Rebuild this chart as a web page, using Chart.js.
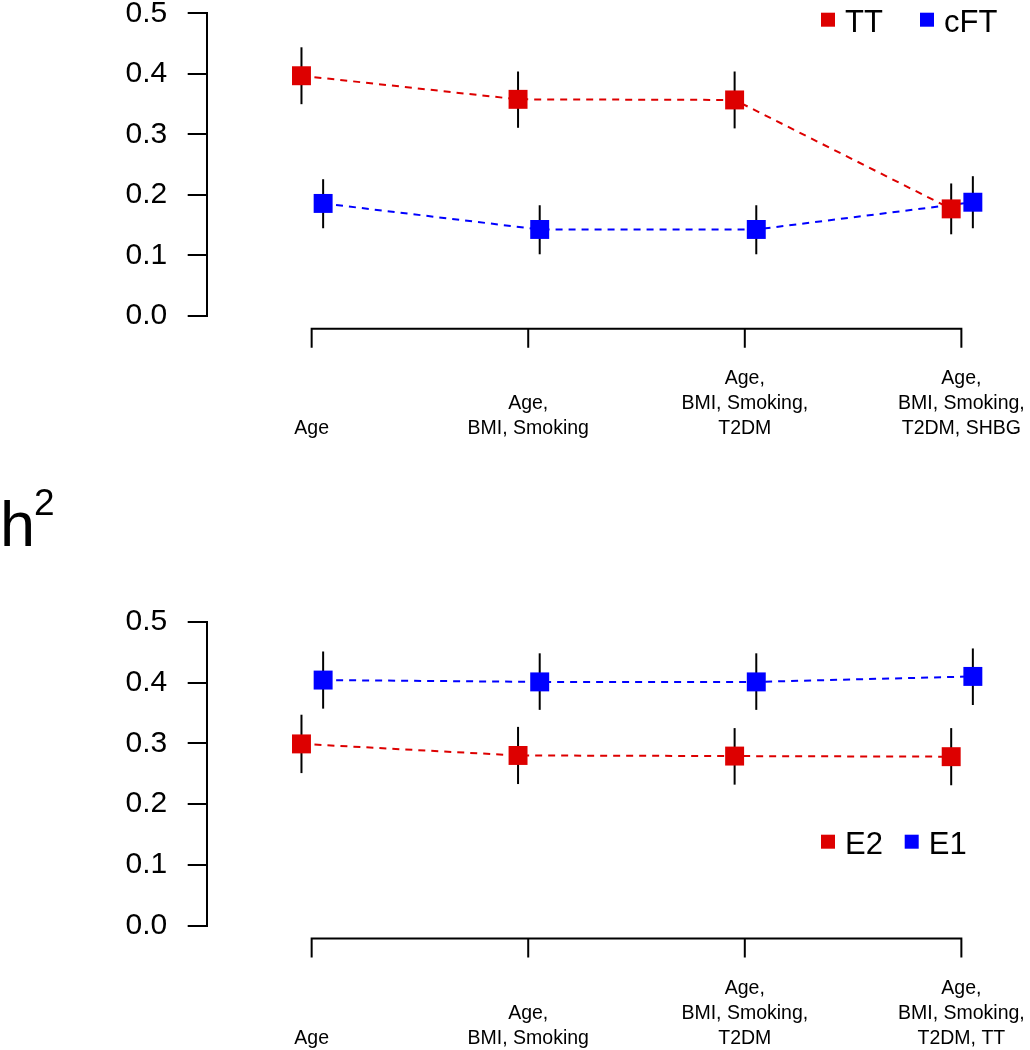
<!DOCTYPE html>
<html>
<head>
<meta charset="utf-8">
<script src="https://cdn.jsdelivr.net/npm/chart.js@4.4.1/dist/chart.umd.min.js"></script>
<style>
  html, body { margin: 0; padding: 0; background: #fff; width: 1030px; height: 1050px; overflow: hidden; }
  canvas { position: absolute; left: 0; }
  #c1 { top: 0; }
  #c2 { top: 525px; }
  .lab { position: absolute; font-family: "Liberation Sans", Arial, Helvetica, sans-serif; color: #000; line-height: 1; white-space: nowrap; }
  #hlab { left: 0px; top: 493px; font-size: 63px; }
  #hsup { left: 34px; top: 484px; font-size: 37px; }
</style>
</head>
<body>
<canvas id="c1" width="1030" height="525"></canvas>
<canvas id="c2" width="1030" height="525"></canvas>
<div class="lab" id="hlab">h</div>
<div class="lab" id="hsup">2</div>
<script>
// ---------------- DATA ----------------
const CATEGORIES_TOP = [
  ['Age'],
  ['Age,', 'BMI, Smoking'],
  ['Age,', 'BMI, Smoking,', 'T2DM'],
  ['Age,', 'BMI, Smoking,', 'T2DM, SHBG']
];
const CATEGORIES_BOTTOM = [
  ['Age'],
  ['Age,', 'BMI, Smoking'],
  ['Age,', 'BMI, Smoking,', 'T2DM'],
  ['Age,', 'BMI, Smoking,', 'T2DM, TT']
];
const Y_TICKS = [0.0, 0.1, 0.2, 0.3, 0.4, 0.5];

const TT       = [0.397, 0.358, 0.357, 0.177];
const TT_LOW   = [0.350, 0.311, 0.310, 0.135];
const TT_HIGH  = [0.444, 0.404, 0.404, 0.219];

const CFT      = [0.186, 0.143, 0.143, 0.188];
const CFT_LOW  = [0.145, 0.102, 0.102, 0.145];
const CFT_HIGH = [0.226, 0.183, 0.183, 0.231];

const E2       = [0.299, 0.280, 0.279, 0.278];
const E2_LOW   = [0.251, 0.233, 0.232, 0.231];
const E2_HIGH  = [0.347, 0.327, 0.325, 0.325];

const E1       = [0.404, 0.401, 0.401, 0.410];
const E1_LOW   = [0.357, 0.355, 0.355, 0.363];
const E1_HIGH  = [0.451, 0.448, 0.448, 0.456];

// ---------------- STYLE ----------------
const RED = '#dd0000';
const BLUE = '#0000ff';
const FONT = '"Liberation Sans", Arial, Helvetica, sans-serif';
const OFFSETS = [-0.047, 0.053];   // horizontal dodge of the two series

function makeDataset(label, color, values, low, high, k) {
  return {
    label: label,
    data: values.map((v, i) => ({ x: i + 1 + OFFSETS[k], y: v })),
    errLow: low,
    errHigh: high,
    borderColor: color,
    borderWidth: 2,
    borderDash: [7, 6],
    backgroundColor: color,
    pointStyle: 'rect',
    pointRadius: 13.4,
    pointHoverRadius: 13.4,
    pointBackgroundColor: color,
    pointBorderWidth: 0,
    showLine: true,
    tension: 0,
    clip: false
  };
}

const errorBars = {
  id: 'errorBars',
  beforeDatasetsDraw(chart) {
    const ctx = chart.ctx, xs = chart.scales.x, ys = chart.scales.y;
    ctx.save();
    ctx.strokeStyle = '#000';
    ctx.lineWidth = 2;
    chart.data.datasets.forEach(ds => {
      ds.data.forEach((p, i) => {
        const x = xs.getPixelForValue(p.x);
        ctx.beginPath();
        ctx.moveTo(x, ys.getPixelForValue(ds.errLow[i]));
        ctx.lineTo(x, ys.getPixelForValue(ds.errHigh[i]));
        ctx.stroke();
      });
    });
    ctx.restore();
  }
};

const bracketAxis = {
  id: 'bracketAxis',
  afterDraw(chart, args, opts) {
    const ctx = chart.ctx, xs = chart.scales.x;
    const cats = opts.categories;
    const y0 = chart.chartArea.bottom + 12.7;
    const xsPix = cats.map((c, i) => xs.getPixelForValue(i + 1));
    ctx.save();
    ctx.strokeStyle = '#000';
    ctx.lineWidth = 2;
    ctx.lineJoin = 'miter';
    ctx.beginPath();
    ctx.moveTo(xsPix[0], y0 + 19);
    ctx.lineTo(xsPix[0], y0);
    ctx.lineTo(xsPix[xsPix.length - 1], y0);
    ctx.lineTo(xsPix[xsPix.length - 1], y0 + 19);
    for (let i = 1; i < xsPix.length - 1; i++) {
      ctx.moveTo(xsPix[i], y0);
      ctx.lineTo(xsPix[i], y0 + 19);
    }
    ctx.stroke();
    ctx.fillStyle = '#000';
    ctx.font = '19.5px ' + FONT;
    ctx.textAlign = 'center';
    ctx.textBaseline = 'middle';
    cats.forEach((lines, i) => {
      const n = lines.length;
      lines.forEach((t, j) => {
        ctx.fillText(t, xsPix[i], y0 + 100 - (n - 1 - j) * 25);
      });
    });
    ctx.restore();
  }
};

const boxLegend = {
  id: 'boxLegend',
  afterDraw(chart, args, opts) {
    const ctx = chart.ctx;
    ctx.save();
    ctx.font = '31px ' + FONT;
    ctx.textAlign = 'left';
    ctx.textBaseline = 'alphabetic';
    chart.data.datasets.forEach((ds, i) => {
      const p = opts.items[i];
      ctx.fillStyle = ds.borderColor;
      ctx.fillRect(p.x - 7, p.y - 7, 14, 14);
      ctx.fillStyle = '#000';
      ctx.fillText(ds.label, p.x + 17, p.y + 12);
    });
    ctx.restore();
  }
};

function makeChart(id, categories, datasets, padTop, padBottom, legendItems) {
  return new Chart(document.getElementById(id), {
    type: 'line',
    data: { datasets: datasets },
    options: {
      responsive: false,
      animation: false,
      events: [],
      layout: { padding: { top: padTop, bottom: padBottom, left: 0, right: 2 } },
      plugins: {
        legend: { display: false },
        tooltip: { enabled: false },
        bracketAxis: { categories: categories },
        boxLegend: { items: legendItems }
      },
      scales: {
        x: {
          type: 'linear',
          display: false,
          min: 0.5154,
          max: 4.255
        },
        y: {
          type: 'linear',
          position: 'left',
          min: 0,
          max: 0.5,
          afterBuildTicks(scale) { scale.ticks = Y_TICKS.map(v => ({ value: v })); },
          afterFit(scale) { scale.width = 206.7; scale.paddingTop = 0; scale.paddingBottom = 0; },
          ticks: {
            color: '#000',
            font: { family: FONT, size: 30 },
            padding: 20.5,
            callback: v => Number(v).toFixed(1)
          },
          grid: {
            drawOnChartArea: false,
            drawTicks: true,
            tickLength: 19,
            color: '#000',
            lineWidth: 2
          },
          border: { display: true, color: '#000', width: 2 }
        }
      }
    },
    plugins: [errorBars, bracketAxis, boxLegend]
  });
}

makeChart('c1', CATEGORIES_TOP, [
  makeDataset('TT', RED, TT, TT_LOW, TT_HIGH, 0),
  makeDataset('cFT', BLUE, CFT, CFT_LOW, CFT_HIGH, 1)
], 12.5, 525 - 316, [{ x: 828, y: 19.7 }, { x: 927, y: 19.7 }]);

makeChart('c2', CATEGORIES_BOTTOM, [
  makeDataset('E2', RED, E2, E2_LOW, E2_HIGH, 0),
  makeDataset('E1', BLUE, E1, E1_LOW, E1_HIGH, 1)
], 621.7 - 525, 525 - 400.7, [{ x: 828, y: 316.7 }, { x: 911.7, y: 316.7 }]);
</script>
</body>
</html>
